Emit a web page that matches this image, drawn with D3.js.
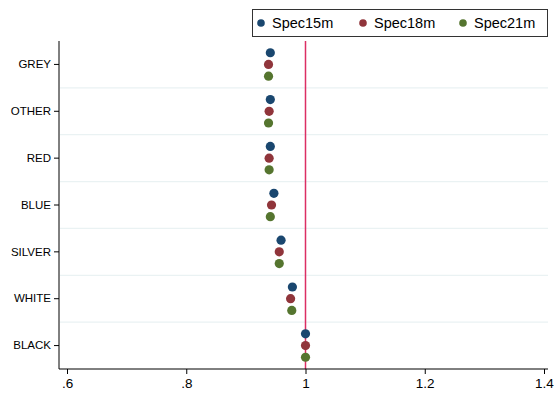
<!DOCTYPE html>
<html>
<head>
<meta charset="utf-8">
<script src="https://cdn.jsdelivr.net/npm/d3@7"></script>
<style>
  body { margin: 0; background: #fff; }
  text { font-family: "Liberation Sans", Arial, sans-serif; }
</style>
</head>
<body>
<div id="chart"></div>
<script>
const categories = ["GREY", "OTHER", "RED", "BLUE", "SILVER", "WHITE", "BLACK"];
const seriesNames = ["Spec15m", "Spec18m", "Spec21m"];
const spec15m = [0.941, 0.941, 0.941, 0.947, 0.959, 0.978, 1.0];
const spec18m = [0.938, 0.939, 0.939, 0.943, 0.956, 0.975, 1.0];
const spec21m = [0.938, 0.938, 0.939, 0.941, 0.956, 0.977, 1.0];
const xTicks = [0.6, 0.8, 1.0, 1.2, 1.4];
const refValue = 1;

const colors = ["#1a476f", "#90353b", "#55752f"];
const series = [spec15m, spec18m, spec21m];

const width = 554, height = 399;
const margin = { top: 41, right: 6, bottom: 30, left: 59 };

const svg = d3.select("#chart").append("svg")
  .attr("width", width)
  .attr("height", height);

const x = d3.scaleLinear()
  .domain([0.6, 1.4])
  .range([67, 544]);

const y = d3.scaleBand()
  .domain(categories)
  .range([margin.top, height - margin.bottom])
  .padding(0);

// offsets of the three series inside a category band
const offset = d3.scalePoint()
  .domain(seriesNames)
  .range([-11.7, 11.7]);

// gridlines between categories
svg.append("g")
  .selectAll("line")
  .data(categories.slice(1))
  .enter()
  .append("line")
  .attr("x1", margin.left + 1)
  .attr("x2", width - margin.right)
  .attr("y1", d => y(d))
  .attr("y2", d => y(d))
  .attr("stroke", "#eaf2f3")
  .attr("stroke-width", 1.2);

// reference line
svg.append("line")
  .attr("x1", x(refValue))
  .attr("x2", x(refValue))
  .attr("y1", margin.top)
  .attr("y2", height - margin.bottom)
  .attr("stroke", "#dc2e63")
  .attr("stroke-width", 1.5);

// x axis
const xAxis = svg.append("g")
  .attr("transform", `translate(0, ${height - margin.bottom})`)
  .call(d3.axisBottom(x)
    .tickValues(xTicks)
    .tickSize(5)
    .tickPadding(4)
    .tickFormat(d => d3.format("")(+d.toFixed(1)).replace(/^0\./, ".")));
xAxis.select(".domain")
  .attr("d", `M${margin.left},0H${width - margin.right}`)
  .attr("stroke", "#000");
xAxis.selectAll("text").style("font-size", "13.5px").attr("fill", "#000");

// y axis
const yAxis = svg.append("g")
  .attr("transform", `translate(${margin.left}, 0)`)
  .call(d3.axisLeft(y).tickSize(5).tickPadding(3));
yAxis.select(".domain")
  .attr("d", `M0,${margin.top}V${height - margin.bottom}`)
  .attr("stroke", "#000");
yAxis.selectAll("text").style("font-size", "11.5px").attr("fill", "#000");

// dots
series.forEach((values, s) => {
  svg.append("g")
    .selectAll("circle")
    .data(values)
    .enter()
    .append("circle")
    .attr("cx", d => x(d))
    .attr("cy", (d, i) => y(categories[i]) + y.bandwidth() / 2 + offset(seriesNames[s]))
    .attr("r", 4.6)
    .attr("fill", colors[s]);
});

// legend
const legend = svg.append("g");
legend.append("rect")
  .attr("x", 252.5)
  .attr("y", 9.5)
  .attr("width", 295)
  .attr("height", 27)
  .attr("fill", "#fff")
  .attr("stroke", "#333")
  .attr("stroke-width", 1);

const legendX = [261, 363, 463];
seriesNames.forEach((name, i) => {
  legend.append("circle")
    .attr("cx", legendX[i])
    .attr("cy", 23)
    .attr("r", 3.8)
    .attr("fill", colors[i]);
  legend.append("text")
    .attr("x", legendX[i] + 11)
    .attr("y", 28)
    .style("font-size", "14.5px")
    .attr("fill", "#000")
    .text(name);
});
</script>
</body>
</html>
